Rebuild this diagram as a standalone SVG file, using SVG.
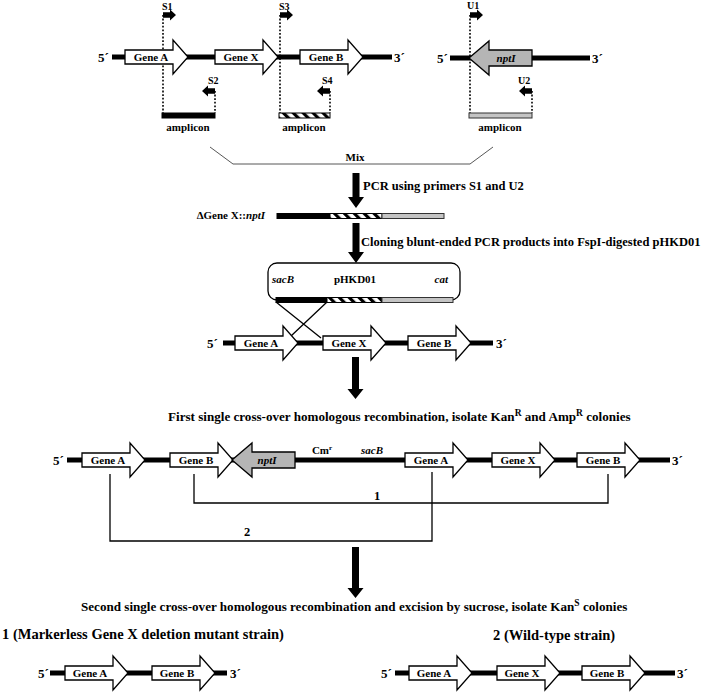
<svg xmlns="http://www.w3.org/2000/svg" xmlns:xlink="http://www.w3.org/1999/xlink" width="720" height="694" viewBox="0 0 720 694">
<defs>
<style>
text{font-family:"Liberation Serif","Times New Roman",serif;font-weight:bold;fill:#000}
.g{font-size:11px;text-anchor:middle}
.e{font-size:13px}
.s{font-size:10px}
.t{font-size:12.5px}
.t2{font-size:13.1px}
.big{font-size:14.5px}
.it{font-style:italic}
.dna{stroke:#000;stroke-width:5;fill:none}
.dot{stroke:#000;stroke-width:1.6;stroke-dasharray:1.8,1.8;fill:none}
.thin{stroke:#000;stroke-width:1.3;fill:none}
.bk{fill:#000;stroke:#000;stroke-width:1}
.hat{fill:url(#hatch);stroke:#000;stroke-width:1}
.gr{fill:#c4c4c4;stroke:#333;stroke-width:1}
</style>
<path id="gene" d="M0,-7 H48 V-17 L63,0 L48,17 V7 H0 Z" fill="#fff" stroke="#000" stroke-width="1.3"/>
<path id="npt" d="M0,0 L20,-17 V-8 H63 V8 H20 V17 Z" fill="#b5b5b5" stroke="#000" stroke-width="1.3"/>
<path id="prR" d="M0,-2.8 H7 V-5.5 L13,0 L7,5.5 V2.8 H0 Z" fill="#000"/>
<path id="prL" d="M0,-2.8 H-7 V-5.5 L-13,0 L-7,5.5 V2.8 H0 Z" fill="#000"/>
<pattern id="hatch" patternUnits="userSpaceOnUse" width="7" height="7" patternTransform="rotate(-45)">
<rect width="7" height="7" fill="#fff"/>
<rect width="3.2" height="7" fill="#000"/>
</pattern>
</defs>
<rect width="720" height="694" fill="#fff"/>

<!-- connectors -->
<g id="connectors">
<path class="dot" d="M163,15 V113 M215,91 V113 M280,15 V113 M330,91 V113 M470,15 V113 M532,91 V113"/>
<path d="M210,147 L233,164 H470 L493,147" stroke="#444" stroke-width="0.9" fill="none"/>
<path class="thin" d="M276,302 L321,338 M327,302 L291,336"/>
<path class="thin" d="M194,474 V503 H608 V474"/>
<path class="thin" d="M110,474 V541 H432 V472"/>
<path d="M352.5,173 H359.5 V197 H364 L356,208 L348,197 H352.5 Z" fill="#000"/>
<path d="M352.5,223 H359.5 V252 H364 L356,263 L348,252 H352.5 Z" fill="#000"/>
<path d="M352,357 H359 V389 H363.5 L355.5,399 L347.5,389 H352 Z" fill="#000"/>
<path d="M352,547 H359 V588 H363.5 L355.5,598 L347.5,588 H352 Z" fill="#000"/>
</g>

<!-- top construct: wild-type locus -->
<g id="locus-top">
<path class="dna" d="M112,57 H392"/>
<text class="e" x="98" y="62">5´</text>
<text class="e" x="394" y="62">3´</text>
<use xlink:href="#gene" x="125" y="57"/>
<text class="g" x="151" y="61">Gene A</text>
<use xlink:href="#gene" x="215" y="57"/>
<text class="g" x="241" y="61">Gene X</text>
<use xlink:href="#gene" x="300" y="57"/>
<text class="g" x="326" y="61">Gene B</text>
</g>

<g id="primers-top">
<use xlink:href="#prR" x="163" y="15"/>
<text class="s" x="162" y="10">S1</text>
<use xlink:href="#prL" x="215" y="91"/>
<text class="s" x="208" y="84">S2</text>
<use xlink:href="#prR" x="280" y="15"/>
<text class="s" x="279" y="10">S3</text>
<use xlink:href="#prL" x="330" y="91"/>
<text class="s" x="322" y="84">S4</text>
</g>

<g id="amplicon-1">
<rect class="bk" x="162" y="113" width="53" height="5"/>
<text class="g" x="188" y="131">amplicon</text>
</g>
<g id="amplicon-2">
<rect class="hat" x="279" y="113" width="51" height="5"/>
<text class="g" x="304" y="131">amplicon</text>
</g>

<!-- nptI cassette -->
<g id="locus-nptI">
<path class="dna" d="M450,58 H590"/>
<text class="e" x="437" y="63">5´</text>
<text class="e" x="592" y="63">3´</text>
<use xlink:href="#npt" x="469" y="58"/>
<text class="g it" x="506" y="62">nptI</text>
<use xlink:href="#prR" x="470" y="15"/>
<text class="s" x="467" y="9">U1</text>
<use xlink:href="#prL" x="532" y="91"/>
<text class="s" x="518" y="84">U2</text>
</g>
<g id="amplicon-3">
<rect class="gr" x="469" y="113" width="63" height="5"/>
<text class="g" x="500" y="131">amplicon</text>
</g>

<g id="mix">
<text class="g" x="355" y="161">Mix</text>
</g>

<g id="step-pcr">
<text class="t" x="363" y="190">PCR using primers S1 and U2</text>
</g>

<g id="pcr-product">
<text class="g" x="265" y="219" style="text-anchor:end">ΔGene X::<tspan class="it">nptI</tspan></text>
<rect class="bk" x="277" y="213.5" width="53" height="5"/>
<rect class="hat" x="330" y="213.5" width="52" height="5"/>
<rect class="gr" x="382" y="213.5" width="62" height="5"/>
</g>

<g id="step-cloning">
<text class="t" x="361" y="246">Cloning blunt-ended PCR products into FspI-digested pHKD01</text>
</g>

<g id="pHKD01">
<rect x="268" y="263" width="192" height="37" rx="9" fill="#fff" stroke="#000" stroke-width="1.3"/>
<text class="g it" x="272" y="283" style="text-anchor:start">sacB</text>
<text class="g" x="355" y="283">pHKD01</text>
<text class="g it" x="448" y="283" style="text-anchor:end">cat</text>
<rect class="bk" x="276" y="297.5" width="51" height="5"/>
<rect class="hat" x="327" y="297.5" width="55" height="5"/>
<rect class="gr" x="382" y="297.5" width="71" height="5"/>
</g>

<g id="locus-recipient">
<path class="dna" d="M223,343 H493"/>
<text class="e" x="207" y="348">5´</text>
<text class="e" x="496" y="348">3´</text>
<use xlink:href="#gene" x="235" y="343"/>
<text class="g" x="261" y="347">Gene A</text>
<use xlink:href="#gene" x="323" y="343"/>
<text class="g" x="349" y="347">Gene X</text>
<use xlink:href="#gene" x="408" y="343"/>
<text class="g" x="434" y="347">Gene B</text>
</g>

<g id="step-first">
<text class="t2" x="168" y="421">First single cross-over homologous recombination, isolate Kan<tspan font-size="9.5" dy="-5">R</tspan><tspan dy="5"> and Amp</tspan><tspan font-size="9.5" dy="-5">R</tspan><tspan dy="5"> colonies</tspan></text>
</g>

<g id="locus-cointegrate">
<path class="dna" d="M67,460 H670"/>
<text class="e" x="53" y="465">5´</text>
<text class="e" x="672" y="465">3´</text>
<use xlink:href="#gene" x="82" y="460"/>
<text class="g" x="108" y="464">Gene A</text>
<use xlink:href="#gene" x="170" y="460"/>
<text class="g" x="196" y="464">Gene B</text>
<use xlink:href="#npt" x="232" y="460"/>
<text class="g it" x="267" y="464">nptI</text>
<text class="g" x="322" y="454">Cm<tspan font-size="7" dy="-4">r</tspan></text>
<text class="g it" x="372" y="454">sacB</text>
<use xlink:href="#gene" x="405" y="460"/>
<text class="g" x="431" y="464">Gene A</text>
<use xlink:href="#gene" x="492" y="460"/>
<text class="g" x="518" y="464">Gene X</text>
<use xlink:href="#gene" x="577" y="460"/>
<text class="g" x="603" y="464">Gene B</text>
<text class="g" x="377" y="500" style="font-size:12.5px">1</text>
<text class="g" x="247" y="536" style="font-size:12.5px">2</text>
</g>

<g id="step-second">
<text class="t2" x="81" y="611">Second single cross-over homologous recombination and excision by sucrose, isolate Kan<tspan font-size="9.5" dy="-5">S</tspan><tspan dy="5"> colonies</tspan></text>
</g>

<g id="result-1">
<text class="big" x="2" y="639">1 (Markerless Gene X deletion mutant strain)</text>
<path class="dna" d="M50,673 H227"/>
<text class="e" x="38" y="678">5´</text>
<text class="e" x="230" y="678">3´</text>
<use xlink:href="#gene" x="65" y="673"/>
<text class="g" x="90" y="677">Gene A</text>
<use xlink:href="#gene" x="152" y="673"/>
<text class="g" x="177" y="677">Gene B</text>
</g>

<g id="result-2">
<text class="big" x="493" y="640">2 (Wild-type strain)</text>
<path class="dna" d="M395,673 H675"/>
<text class="e" x="381" y="678">5´</text>
<text class="e" x="677" y="678">3´</text>
<use xlink:href="#gene" x="409" y="673"/>
<text class="g" x="434" y="677">Gene A</text>
<use xlink:href="#gene" x="497" y="673"/>
<text class="g" x="522" y="677">Gene X</text>
<use xlink:href="#gene" x="582" y="673"/>
<text class="g" x="607" y="677">Gene B</text>
</g>
</svg>
